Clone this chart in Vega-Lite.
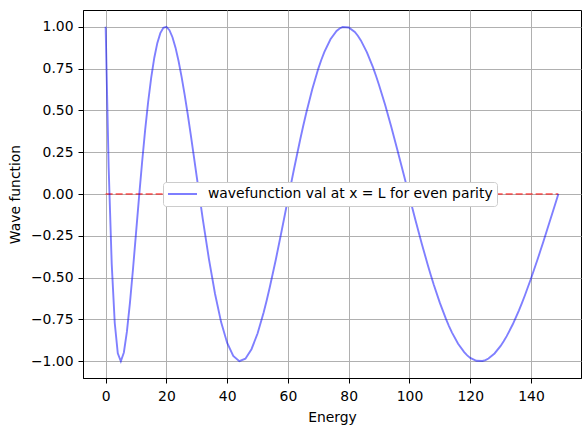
{
  "$schema": "https://vega.github.io/schema/vega-lite/v6.json",
  "width": 498,
  "height": 368,
  "autosize": {"type": "none"},
  "padding": {"left": 83, "top": 10, "right": 6, "bottom": 54},
  "background": "white",
  "config": {
    "font": "DejaVu Sans",
    "view": {"stroke": "black", "strokeWidth": 1},
    "axis": {
      "domainColor": "black",
      "tickColor": "black",
      "tickSize": 5,
      "labelPadding": 4,
      "labelColor": "black",
      "labelFontSize": 13.9,
      "labelFont": "DejaVu Sans",
      "titleFont": "DejaVu Sans",
      "titleFontSize": 13.9,
      "titleFontWeight": "normal",
      "titleColor": "black",
      "gridColor": "#b0b0b0",
      "gridWidth": 1
    }
  },
  "datasets": {
    "wave": [
      {"E": 0, "v": 1.0}, {"E": 1, "v": 0.155}, {"E": 2, "v": -0.4179}, {"E": 3, "v": -0.7713},
      {"E": 4, "v": -0.9522}, {"E": 5, "v": -0.9997}, {"E": 6, "v": -0.9474}, {"E": 7, "v": -0.8233},
      {"E": 8, "v": -0.6508}, {"E": 9, "v": -0.4497}, {"E": 10, "v": -0.2339}, {"E": 11, "v": -0.0176},
      {"E": 12, "v": 0.1899}, {"E": 13, "v": 0.3815}, {"E": 14, "v": 0.5514}, {"E": 15, "v": 0.6961},
      {"E": 16, "v": 0.8134}, {"E": 17, "v": 0.9018}, {"E": 18, "v": 0.9617}, {"E": 19, "v": 0.9936},
      {"E": 20, "v": 0.9989}, {"E": 21, "v": 0.9793}, {"E": 22, "v": 0.9372}, {"E": 23, "v": 0.8749},
      {"E": 24, "v": 0.7952}, {"E": 25, "v": 0.7006}, {"E": 26, "v": 0.5942}, {"E": 27, "v": 0.4784},
      {"E": 28, "v": 0.3564}, {"E": 29, "v": 0.2291}, {"E": 30, "v": 0.1006}, {"E": 32, "v": -0.1528},
      {"E": 34, "v": -0.3893}, {"E": 36, "v": -0.5965}, {"E": 38, "v": -0.7657}, {"E": 40, "v": -0.8906},
      {"E": 42, "v": -0.9686}, {"E": 44, "v": -0.9994}, {"E": 46, "v": -0.9846}, {"E": 48, "v": -0.9278},
      {"E": 50, "v": -0.834}, {"E": 52, "v": -0.709}, {"E": 53, "v": -0.6369}, {"E": 54, "v": -0.5593},
      {"E": 56, "v": -0.393}, {"E": 58, "v": -0.2135}, {"E": 59, "v": -0.1224}, {"E": 60, "v": -0.0309},
      {"E": 62, "v": 0.1497}, {"E": 64, "v": 0.3227}, {"E": 65, "v": 0.4049}, {"E": 66, "v": 0.4831},
      {"E": 68, "v": 0.6267}, {"E": 70, "v": 0.7497}, {"E": 71, "v": 0.8027}, {"E": 72, "v": 0.8498},
      {"E": 74, "v": 0.9251}, {"E": 76, "v": 0.9745}, {"E": 77, "v": 0.9895}, {"E": 78, "v": 0.9979},
      {"E": 80, "v": 0.9955}, {"E": 82, "v": 0.9685}, {"E": 83, "v": 0.9461}, {"E": 84, "v": 0.9183},
      {"E": 86, "v": 0.8469}, {"E": 88, "v": 0.7568}, {"E": 89, "v": 0.7055}, {"E": 90, "v": 0.6506},
      {"E": 92, "v": 0.5315}, {"E": 94, "v": 0.4016}, {"E": 95, "v": 0.334}, {"E": 96, "v": 0.2647},
      {"E": 98, "v": 0.1239}, {"E": 100, "v": -0.0181}, {"E": 101, "v": -0.0886}, {"E": 102, "v": -0.1582},
      {"E": 104, "v": -0.294}, {"E": 106, "v": -0.4228}, {"E": 107, "v": -0.4838}, {"E": 108, "v": -0.5424},
      {"E": 110, "v": -0.651}, {"E": 112, "v": -0.7468}, {"E": 113, "v": -0.7896}, {"E": 114, "v": -0.8285},
      {"E": 116, "v": -0.895}, {"E": 118, "v": -0.9456}, {"E": 119, "v": -0.9647}, {"E": 120, "v": -0.9797},
      {"E": 122, "v": -0.9973}, {"E": 124, "v": -0.9985}, {"E": 125, "v": -0.993}, {"E": 126, "v": -0.9836},
      {"E": 128, "v": -0.9533}, {"E": 130, "v": -0.9083}, {"E": 131, "v": -0.8807}, {"E": 132, "v": -0.8498},
      {"E": 134, "v": -0.7788}, {"E": 136, "v": -0.6969}, {"E": 137, "v": -0.6521}, {"E": 138, "v": -0.6052},
      {"E": 140, "v": -0.5054}, {"E": 142, "v": -0.3994}, {"E": 143, "v": -0.3442}, {"E": 144, "v": -0.2882},
      {"E": 146, "v": -0.1738}, {"E": 148, "v": -0.0581}, {"E": 149, "v": 0.0}
    ],
    "zero": [{"E": 0, "v": 0}, {"E": 149, "v": 0}]
  },
  "layer": [
    {
      "data": {"name": "zero"},
      "mark": {"type": "line", "color": "#ff0000", "opacity": 0.5, "strokeWidth": 1.9, "strokeDash": [7, 3]},
      "encoding": {
        "x": {"field": "E", "type": "quantitative", "scale": {"domain": [-7.45, 156.45], "nice": false, "zero": false},
          "axis": {"values": [0, 20, 40, 60, 80, 100, 120, 140], "title": "Energy", "titlePadding": 8, "labelPadding": 6}},
        "y": {"field": "v", "type": "quantitative", "scale": {"domain": [-1.1, 1.1], "nice": false, "zero": false},
          "axis": {"values": [-1, -0.75, -0.5, -0.25, 0, 0.25, 0.5, 0.75, 1], "title": "Wave function", "titlePadding": 8, "labelPadding": 5,
            "labelExpr": "replace(format(datum.value, '.2f'), '-', '\u2212')"}}
      }
    },
    {
      "data": {"name": "wave"},
      "transform": [{"calculate": "'wavefunction val at x = L for even parity'", "as": "s"}],
      "mark": {"type": "line", "opacity": 0.5, "strokeWidth": 1.9},
      "encoding": {
        "x": {"field": "E", "type": "quantitative"},
        "y": {"field": "v", "type": "quantitative"},
        "color": {"field": "s", "type": "nominal", "scale": {"range": ["#0000ff"]},
          "legend": {"title": null, "orient": "none", "legendX": 80, "legendY": 172, "fillColor": "white",
            "strokeColor": "#cccccc", "cornerRadius": 3, "padding": 4, "symbolType": "stroke", "symbolSize": 841,
            "symbolStrokeWidth": 2, "symbolOpacity": 0.5, "labelOffset": 10, "labelLimit": 500, "clipHeight": 16,
            "labelFontSize": 13.9, "labelColor": "black", "labelFont": "DejaVu Sans"}}
      }
    }
  ]
}
